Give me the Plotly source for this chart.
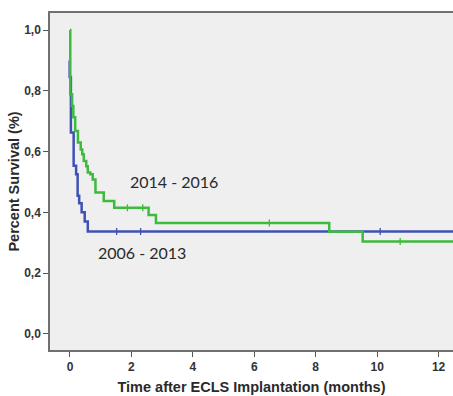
import plotly.graph_objects as go

# Kaplan-Meier step data (time in months, survival after step)
green_label = "2014 - 2016"
green_t = [0.0, 0.01, 0.07, 0.11, 0.17, 0.26, 0.35, 0.40, 0.45, 0.53, 0.58, 0.66, 0.74, 0.83, 1.10, 1.44, 2.56, 2.80, 8.44, 9.53, 12.6]
green_s = [1.0, 0.789, 0.750, 0.713, 0.668, 0.630, 0.607, 0.591, 0.569, 0.552, 0.531, 0.525, 0.508, 0.465, 0.437, 0.415, 0.391, 0.365, 0.336, 0.304, 0.304]
green_cens = [1.87, 2.37, 6.49, 10.75]

blue_label = "2006 - 2013"
blue_t = [-0.01, -0.01, 0.03, 0.12, 0.20, 0.25, 0.30, 0.38, 0.48, 0.58, 12.6]
blue_s = [0.90, 0.845, 0.663, 0.553, 0.525, 0.455, 0.430, 0.400, 0.370, 0.337, 0.337]
blue_cens = [1.52, 2.30, 10.10]

x_ticks = [0, 2, 4, 6, 8, 10, 12]
y_ticks = [0.0, 0.2, 0.4, 0.6, 0.8, 1.0]

GREEN = "#3dbb3d"
BLUE = "#3f52b4"


def surv_at(ts, ss, t):
    v = ss[0]
    for ti, si in zip(ts, ss):
        if ti <= t:
            v = si
    return v


fig = go.Figure()
for ts, ss, cens, col in [(blue_t, blue_s, blue_cens, BLUE), (green_t, green_s, green_cens, GREEN)]:
    fig.add_trace(go.Scatter(x=ts, y=ss, mode="lines", line=dict(color=col, width=2.5, shape="hv"),
                             showlegend=False, hoverinfo="skip"))
    fig.add_trace(go.Scatter(x=cens, y=[surv_at(ts, ss, c) for c in cens], mode="markers",
                             marker=dict(symbol="line-ns", size=5, line=dict(color=col, width=1.3)),
                             showlegend=False, hoverinfo="skip"))

fig.add_annotation(x=3.40, y=0.502, text=green_label, showarrow=False,
                   font=dict(family="Lato", size=16, color="#2a2a2a"))
fig.add_annotation(x=2.34, y=0.267, text=blue_label, showarrow=False,
                   font=dict(family="Lato", size=16, color="#2a2a2a"))

fig.update_layout(
    width=453, height=396,
    margin=dict(l=50, r=0, t=13, b=46),
    paper_bgcolor="white", plot_bgcolor="#efefef",
    separators=",.",
    font=dict(family="Liberation Sans, Arial", size=12, color="#2a2a2a"),
    xaxis=dict(range=[-0.65, 12.47], tickvals=x_ticks, ticks="outside", ticklen=5, tickwidth=1.2,
               tickcolor="#555555", showgrid=False, zeroline=False, showline=True, linecolor="#707070",
               linewidth=1.5, mirror=True,
               title=dict(text="<b>Time after ECLS Implantation (months)</b>", font=dict(size=14.5), standoff=9),
               tickfont=dict(size=12, weight="bold", color="#333333")),
    yaxis=dict(range=[-0.053, 1.056], tickvals=y_ticks, tickformat=".1f", ticks="outside", ticklen=5,
               tickwidth=1.2, tickcolor="#555555", showgrid=False, zeroline=False, showline=True,
               linecolor="#707070", linewidth=1.5,
               title=dict(text="<b>Percent Survival (%)</b>", font=dict(size=14.5), standoff=1),
               tickfont=dict(size=12, weight="bold", color="#333333")),
)

fig.write_html("out.html")
